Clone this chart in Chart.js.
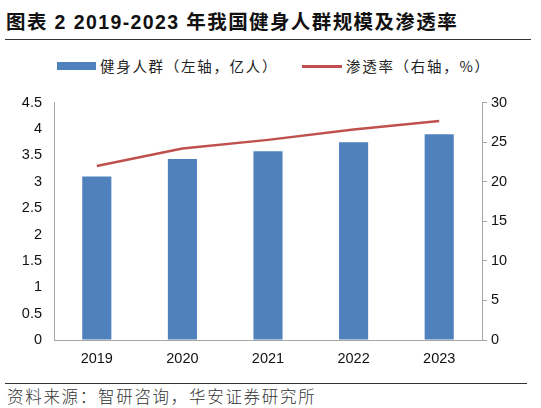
<!DOCTYPE html>
<html>
<head>
<meta charset="utf-8">
<script src="https://cdn.jsdelivr.net/npm/chart.js@4/dist/chart.umd.min.js"></script>
<style>
  body { margin: 0; background: #fff; }
  #page { position: relative; width: 541px; height: 408px; overflow: hidden; font-family: "Liberation Sans", "Noto Sans CJK SC", sans-serif; }
  #title { position: absolute; left: 6px; top: 6px; font-size: 19.5px; font-weight: bold; color: #111; white-space: nowrap; letter-spacing: 1.4px;
           font-family: "Liberation Sans", "Noto Sans CJK SC", sans-serif; }
  #rule1 { position: absolute; left: 5px; top: 39px; width: 526px; height: 0; border-top: 1.5px solid #333; }
  #legend { position: absolute; top: 55px; left: 0; width: 541px; font-size: 14.5px; color: #222; font-family: "Noto Sans CJK SC", sans-serif; }
  .sw { position: absolute; }
  .lt { position: absolute; top: 0; white-space: nowrap; letter-spacing: 1.7px; }
  #wrap { position: absolute; left: 0; top: 82px; width: 541px; height: 292px; }
  #rule2 { position: absolute; left: 5px; top: 383px; width: 522px; height: 0; border-top: 1px solid #333; }
  #source { position: absolute; left: 7px; top: 384px; font-size: 16.5px; color: #333; white-space: nowrap; letter-spacing: 1.7px;
            font-family: "Noto Sans CJK SC", sans-serif; font-weight: 300; }
</style>
</head>
<body>
<div id="page">
  <div id="title">图表 2 2019-2023 年我国健身人群规模及渗透率</div>
  <div id="rule1"></div>
  <div id="legend">
    <div class="sw" style="left:57px; top:7px; width:39px; height:8px; background:#4F81BD;"></div>
    <div class="lt" style="left:100px;">健身人群（左轴，亿人）</div>
    <div class="sw" style="left:302px; top:10px; width:40px; height:2.5px; background:#C0504D;"></div>
    <div class="lt" style="left:346px;">渗透率（右轴，%）</div>
  </div>
  <div id="wrap"><canvas id="chart"></canvas></div>
  <div id="rule2"></div>
  <div id="source">资料来源：智研咨询，华安证券研究所</div>
</div>
<script>
const years = ['2019', '2020', '2021', '2022', '2023'];
const fitnessPeople = [3.1, 3.43, 3.58, 3.75, 3.9];      // 亿人, left axis
const penetration = [22.0, 24.2, 25.3, 26.6, 27.7];      // %, right axis

const tickFont = { family: 'Liberation Sans', size: 14.5 };

new Chart(document.getElementById('chart'), {
  data: {
    labels: years,
    datasets: [
      {
        type: 'line',
        label: '渗透率（右轴，%）',
        data: penetration,
        yAxisID: 'y2',
        borderColor: '#C0504D',
        borderWidth: 2.5,
        pointRadius: 0,
        tension: 0,
        order: 0
      },
      {
        type: 'bar',
        label: '健身人群（左轴，亿人）',
        data: fitnessPeople,
        yAxisID: 'y',
        backgroundColor: '#4F81BD',
        barPercentage: 0.34,
        categoryPercentage: 1,
        order: 1
      }
    ]
  },
  options: {
    responsive: true,
    maintainAspectRatio: false,
    animation: false,
    layout: { padding: { top: 8, bottom: 0, left: 0, right: 0 } },
    plugins: { legend: { display: false }, tooltip: { enabled: false } },
    scales: {
      x: {
        grid: { display: true, drawOnChartArea: false, drawTicks: false },
        border: { color: '#A6A6A6', width: 1 },
        ticks: { color: '#111', font: tickFont, padding: 10 },
        afterFit: s => { s.height = 34; }
      },
      y: {
        position: 'left',
        min: 0, max: 4.5,
        ticks: { stepSize: 0.5, color: '#111', font: tickFont, padding: 12, callback: v => String(Number(v.toFixed(1))) },
        grid: { display: true, drawOnChartArea: false, drawTicks: false },
        border: { color: '#A6A6A6', width: 1 },
        afterFit: s => { s.width = 54; }
      },
      y2: {
        position: 'right',
        min: 0, max: 30,
        ticks: { stepSize: 5, color: '#111', font: tickFont, padding: 4 },
        grid: { display: true, drawOnChartArea: false, drawTicks: true, tickLength: 5, color: '#A6A6A6' },
        border: { color: '#A6A6A6', width: 1 },
        afterFit: s => { s.width = 59; }
      }
    }
  }
});
</script>
</body>
</html>
